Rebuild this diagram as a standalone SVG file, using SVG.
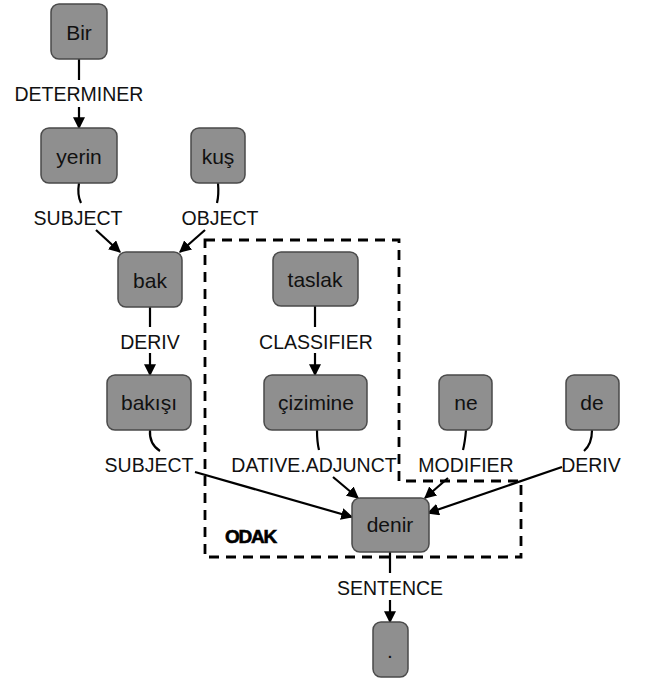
<svg xmlns="http://www.w3.org/2000/svg" width="649" height="679" viewBox="0 0 649 679">
  <defs>
    <marker id="arrow" viewBox="0 0 10 10" refX="9" refY="5" markerWidth="12" markerHeight="12" markerUnits="userSpaceOnUse" orient="auto">
      <path d="M0,0 L10,5 L0,10 z" fill="#000"/>
    </marker>
    <style>
      .node rect { fill: #8f8f8f; stroke: #4a4a4a; stroke-width: 1.5; }
      .node text { font-family: "Liberation Sans", Arial, sans-serif; font-size: 21px; fill: #111; text-anchor: middle; dominant-baseline: central; }
      .label { font-family: "Liberation Sans", Arial, sans-serif; font-size: 19.5px; fill: #111; text-anchor: middle; }
      .edge { fill: none; stroke: #000; stroke-width: 2.2; }
      .arrowed { marker-end: url(#arrow); }
      .focus { fill: none; stroke: #000; stroke-width: 2.8; stroke-dasharray: 10 7; }
      .focus-title { font-family: "Liberation Sans", Arial, sans-serif; font-size: 19px; font-weight: bold; fill: #000; letter-spacing: -1.2px; stroke: #000; stroke-width: 0.6; }
    </style>
  </defs>
  <rect width="649" height="679" fill="#fff"/>

  <!-- focus region -->
  <g id="odak">
    <path class="focus" d="M205,240 H399 V481 H521 V557 H205 Z"/>
    <text class="focus-title" x="225" y="543">ODAK</text>
  </g>

  <!-- connectors -->
  <g id="edges">
    <!-- Bir -> yerin -->
    <path class="edge" d="M79,59 V80"/>
    <path class="edge arrowed" d="M79,107 V128"/>
    <!-- yerin -> bak -->
    <path class="edge" d="M79,183 Q77,195 81,203"/>
    <path class="edge arrowed" d="M96,230 L120,252"/>
    <!-- kuş -> bak -->
    <path class="edge" d="M218,183 Q219,195 217,203"/>
    <path class="edge arrowed" d="M205,230 L180,252"/>
    <!-- bak -> bakışı -->
    <path class="edge" d="M150,307 V327"/>
    <path class="edge arrowed" d="M150,353 V375"/>
    <!-- taslak -> çizimine -->
    <path class="edge" d="M315,306 V327"/>
    <path class="edge arrowed" d="M315,353 V375"/>
    <!-- bakışı -> denir -->
    <path class="edge" d="M150,430 Q149,444 160,451"/>
    <path class="edge arrowed" d="M195,472 L352,517"/>
    <!-- çizimine -> denir -->
    <path class="edge" d="M317,430 Q317,442 319,450"/>
    <path class="edge arrowed" d="M333,477 L358,498"/>
    <!-- ne -> denir -->
    <path class="edge" d="M466,430 Q465,442 463,450"/>
    <path class="edge arrowed" d="M448,478 L425,498"/>
    <!-- de -> denir -->
    <path class="edge" d="M592,430 Q592,444 584,451"/>
    <path class="edge arrowed" d="M562,467 L428,513"/>
    <!-- denir -> . -->
    <path class="edge" d="M390,552 V573"/>
    <path class="edge arrowed" d="M390,600 V622"/>
  </g>

  <!-- connector labels -->
  <g id="labels">
    <text class="label" x="79" y="101">DETERMINER</text>
    <text class="label" x="78" y="225">SUBJECT</text>
    <text class="label" x="220" y="225">OBJECT</text>
    <text class="label" x="150" y="349">DERIV</text>
    <text class="label" x="316" y="349">CLASSIFIER</text>
    <text class="label" x="149" y="472">SUBJECT</text>
    <text class="label" x="314" y="472">DATIVE.ADJUNCT</text>
    <text class="label" x="466" y="472">MODIFIER</text>
    <text class="label" x="591" y="472">DERIV</text>
    <text class="label" x="390" y="595">SENTENCE</text>
  </g>

  <!-- nodes -->
  <g id="n-bir" class="node"><rect x="51" y="4" width="56" height="55" rx="8"/><text x="79" y="32">Bir</text></g>
  <g id="n-yerin" class="node"><rect x="41" y="128" width="76" height="55" rx="8"/><text x="79" y="156">yerin</text></g>
  <g id="n-kus" class="node"><rect x="191" y="128" width="54" height="55" rx="8"/><text x="218" y="156">kuş</text></g>
  <g id="n-bak" class="node"><rect x="118" y="252" width="64" height="55" rx="8"/><text x="150" y="280">bak</text></g>
  <g id="n-taslak" class="node"><rect x="273" y="252" width="85" height="54" rx="8"/><text x="315" y="279">taslak</text></g>
  <g id="n-bakisi" class="node"><rect x="107" y="375" width="84" height="55" rx="8"/><text x="149" y="402">bakışı</text></g>
  <g id="n-cizimine" class="node"><rect x="264" y="375" width="103" height="55" rx="8"/><text x="316" y="402">çizimine</text></g>
  <g id="n-ne" class="node"><rect x="439" y="375" width="53" height="55" rx="8"/><text x="466" y="402">ne</text></g>
  <g id="n-de" class="node"><rect x="566" y="375" width="53" height="55" rx="8"/><text x="592" y="402">de</text></g>
  <g id="n-denir" class="node"><rect x="352" y="498" width="77" height="54" rx="8"/><text x="390" y="524">denir</text></g>
  <g id="n-dot" class="node"><rect x="373" y="622" width="35" height="55" rx="8"/><text x="390" y="650">.</text></g>
</svg>
